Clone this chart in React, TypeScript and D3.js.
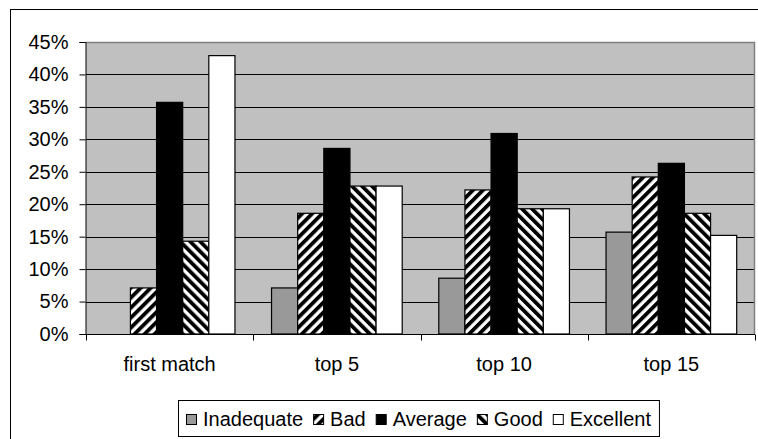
import React, { useRef, useEffect } from 'react';
import * as d3 from 'd3';

const categories = ['first match', 'top 5', 'top 10', 'top 15'];
const seriesNames = ['Inadequate', 'Bad', 'Average', 'Good', 'Excellent'];
const inadequate = [0, 7.1, 8.6, 15.7];
const bad = [7.1, 18.6, 22.2, 24.2];
const average = [35.7, 28.6, 30.9, 26.3];
const good = [14.3, 22.8, 19.3, 18.6];
const excellent = [42.9, 22.8, 19.3, 15.2];
const yTicks = [0, 5, 10, 15, 20, 25, 30, 35, 40, 45];

const seriesValues = [inadequate, bad, average, good, excellent];
const fills = ['#999999', 'url(#pat-bad)', '#000000', 'url(#pat-good)', '#ffffff'];

const W = 758;
const H = 439;
const FONT = '"Liberation Sans", Arial, sans-serif';
const FS = '20px';

export default function App() {
  const svgRef = useRef<SVGSVGElement | null>(null);

  useEffect(() => {
    if (!svgRef.current) return;
    const svg = d3.select(svgRef.current);
    svg.selectAll('*').remove();

    const plot = { left: 86, right: 755, top: 42, bottom: 334 };

    // patterns
    const defs = svg.append('defs');
    const mkPattern = (id: string, angle: number) => {
      const p = defs.append('pattern')
        .attr('id', id)
        .attr('patternUnits', 'userSpaceOnUse')
        .attr('width', 7.07)
        .attr('height', 7.07)
        .attr('patternTransform', `rotate(${angle})`);
      p.append('rect').attr('width', 7.07).attr('height', 7.07).attr('fill', '#fff');
      p.append('rect').attr('width', 3.8).attr('height', 7.07).attr('fill', '#000');
    };
    mkPattern('pat-bad', 45);
    mkPattern('pat-good', -45);

    // outer frame
    svg.append('rect')
      .attr('x', 10.5).attr('y', 9.5)
      .attr('width', 800).attr('height', 500)
      .attr('fill', '#fff').attr('stroke', '#000');

    const x = d3.scaleBand<string>()
      .domain(categories)
      .range([plot.left, plot.right]);

    const catW = x.bandwidth();
    const barW = catW / (seriesNames.length + 1.4);
    const xs = d3.scaleBand<string>()
      .domain(seriesNames)
      .range([0.7 * barW, 0.7 * barW + barW * seriesNames.length]);

    const y = d3.scaleLinear().domain([0, 45]).range([plot.bottom, plot.top]);

    // plot area
    svg.append('rect')
      .attr('x', plot.left).attr('y', plot.top)
      .attr('width', plot.right - plot.left).attr('height', plot.bottom - plot.top)
      .attr('fill', '#c0c0c0');

    // grid lines
    svg.append('g')
      .selectAll('line')
      .data(yTicks.filter(t => t > 0 && t < 45))
      .join('line')
      .attr('x1', plot.left).attr('x2', plot.right)
      .attr('y1', d => Math.round(y(d)) + 0.5)
      .attr('y2', d => Math.round(y(d)) + 0.5)
      .attr('stroke', '#000').attr('stroke-width', 1);

    // top + right border of plot
    svg.append('path')
      .attr('d', `M${plot.left},${plot.top + 0.5}H${plot.right - 0.5}V${plot.bottom}`)
      .attr('fill', 'none').attr('stroke', '#808080').attr('stroke-width', 1.5);

    // bars
    const groups = svg.append('g')
      .selectAll('g')
      .data(categories)
      .join('g')
      .attr('transform', c => `translate(${x(c)},0)`);

    groups.selectAll('rect')
      .data((c, ci) => seriesNames.map((s, si) => ({ s, si, v: seriesValues[si][ci] })))
      .join('rect')
      .filter(d => d.v > 0)
      .attr('x', d => xs(d.s)!)
      .attr('y', d => y(d.v))
      .attr('width', xs.bandwidth())
      .attr('height', d => y(0) - y(d.v))
      .attr('fill', d => fills[d.si])
      .attr('stroke', '#000')
      .attr('stroke-width', 1.2);

    // y axis
    const yAxis = svg.append('g')
      .attr('transform', `translate(${plot.left - 0.5},0)`)
      .call(d3.axisLeft(y).tickValues(yTicks).tickSize(6).tickPadding(11)
        .tickFormat(d => `${d}%`));
    yAxis.select('.domain').attr('stroke', '#000');
    yAxis.selectAll('.tick line').attr('stroke', '#000');
    yAxis.selectAll('.tick text')
      .attr('fill', '#000')
      .style('font-family', FONT)
      .style('font-size', FS);

    // x axis
    const xAxis = svg.append('g')
      .attr('transform', `translate(0,${plot.bottom + 0.5})`);
    xAxis.append('line')
      .attr('x1', plot.left - 6).attr('x2', plot.right)
      .attr('stroke', '#000');
    xAxis.selectAll('line.tk')
      .data([...categories.map(c => x(c)!), plot.right])
      .join('line')
      .attr('class', 'tk')
      .attr('x1', d => Math.round(d) + 0.5).attr('x2', d => Math.round(d) + 0.5)
      .attr('y1', 0).attr('y2', 6)
      .attr('stroke', '#000');
    xAxis.selectAll('text')
      .data(categories)
      .join('text')
      .attr('x', c => x(c)! + catW / 2)
      .attr('y', 36)
      .attr('text-anchor', 'middle')
      .style('font-family', FONT)
      .style('font-size', FS)
      .text(c => c);

    // legend
    const legend = svg.append('g');
    const box = legend.append('rect')
      .attr('y', 400.5).attr('height', 36)
      .attr('fill', '#fff').attr('stroke', '#000');
    let cx = 186;
    seriesNames.forEach((s, i) => {
      legend.append('rect')
        .attr('x', cx + 0.5).attr('y', 414.5)
        .attr('width', 10).attr('height', 10)
        .attr('fill', fills[i]).attr('stroke', '#000');
      const t = legend.append('text')
        .attr('x', cx + 17)
        .attr('y', 418.5)
        .attr('dy', '0.35em')
        .style('font-family', FONT)
        .style('font-size', FS)
        .text(s);
      const len = (t.node() as SVGTextElement).getComputedTextLength();
      cx = cx + 17 + len + 10;
    });
    box.attr('x', 178.5).attr('width', cx - 178 - 2);
  }, []);

  return (
    <div style={{ position: 'absolute', left: 0, top: 0, width: W, height: H, overflow: 'hidden', background: '#fff' }}>
      <svg ref={svgRef} width={W} height={H} />
    </div>
  );
}
